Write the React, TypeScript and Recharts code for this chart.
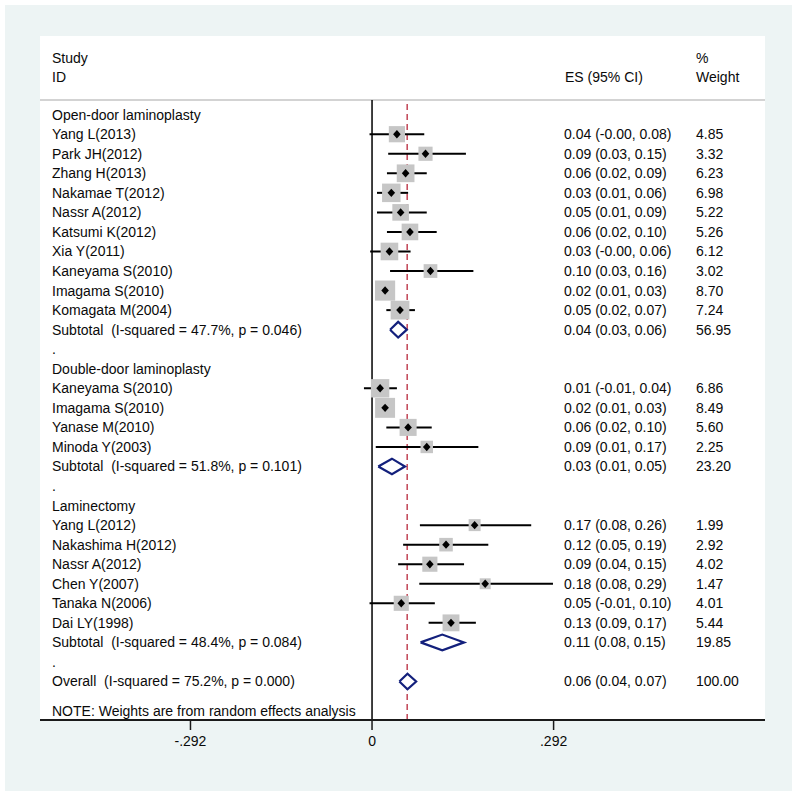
import { ComposedChart, Scatter, XAxis, YAxis, ErrorBar, ReferenceLine } from "recharts";

// rows of the forest plot, top to bottom
const rowLabels = [
  "Open-door laminoplasty",
  "Yang L(2013)",
  "Park JH(2012)",
  "Zhang H(2013)",
  "Nakamae T(2012)",
  "Nassr A(2012)",
  "Katsumi K(2012)",
  "Xia Y(2011)",
  "Kaneyama S(2010)",
  "Imagama S(2010)",
  "Komagata M(2004)",
  "Subtotal  (I-squared = 47.7%, p = 0.046)",
  ".",
  "Double-door laminoplasty",
  "Kaneyama S(2010)",
  "Imagama S(2010)",
  "Yanase M(2010)",
  "Minoda Y(2003)",
  "Subtotal  (I-squared = 51.8%, p = 0.101)",
  ".",
  "Laminectomy",
  "Yang L(2012)",
  "Nakashima H(2012)",
  "Nassr A(2012)",
  "Chen Y(2007)",
  "Tanaka N(2006)",
  "Dai LY(1998)",
  "Subtotal  (I-squared = 48.4%, p = 0.084)",
  ".",
  "Overall  (I-squared = 75.2%, p = 0.000)",
  "NOTE: Weights are from random effects analysis",
];

const rowKinds = [
  "group", "study", "study", "study", "study", "study", "study", "study", "study", "study", "study", "summary", "blank",
  "group", "study", "study", "study", "study", "summary", "blank",
  "group", "study", "study", "study", "study", "study", "study", "summary", "blank",
  "summary", "note",
];

const esLabels = [
  "", "0.04 (-0.00, 0.08)", "0.09 (0.03, 0.15)", "0.06 (0.02, 0.09)", "0.03 (0.01, 0.06)", "0.05 (0.01, 0.09)",
  "0.06 (0.02, 0.10)", "0.03 (-0.00, 0.06)", "0.10 (0.03, 0.16)", "0.02 (0.01, 0.03)", "0.05 (0.02, 0.07)",
  "0.04 (0.03, 0.06)", "",
  "", "0.01 (-0.01, 0.04)", "0.02 (0.01, 0.03)", "0.06 (0.02, 0.10)", "0.09 (0.01, 0.17)", "0.03 (0.01, 0.05)", "",
  "", "0.17 (0.08, 0.26)", "0.12 (0.05, 0.19)", "0.09 (0.04, 0.15)", "0.18 (0.08, 0.29)", "0.05 (-0.01, 0.10)",
  "0.13 (0.09, 0.17)", "0.11 (0.08, 0.15)", "",
  "0.06 (0.04, 0.07)", "",
];

const weightLabels = [
  "", "4.85", "3.32", "6.23", "6.98", "5.22", "5.26", "6.12", "3.02", "8.70", "7.24", "56.95", "",
  "", "6.86", "8.49", "5.60", "2.25", "23.20", "",
  "", "1.99", "2.92", "4.02", "1.47", "4.01", "5.44", "19.85", "",
  "100.00", "",
];

// plotted effect sizes and 95% CI (null where the row has no mark)
const estimates = [
  null, 0.04, 0.086, 0.054, 0.031, 0.046, 0.061, 0.028, 0.094, 0.021, 0.045, 0.042, null,
  null, 0.013, 0.021, 0.058, 0.088, 0.032, null,
  null, 0.165, 0.119, 0.093, 0.182, 0.047, 0.127, 0.113, null,
  0.057, null,
];
const ciLow = [
  null, -0.004, 0.026, 0.024, 0.008, 0.008, 0.024, -0.003, 0.029, 0.011, 0.023, 0.029, null,
  null, -0.013, 0.012, 0.023, 0.006, 0.01, null,
  null, 0.077, 0.05, 0.042, 0.076, -0.004, 0.091, 0.078, null,
  0.044, null,
];
const ciHigh = [
  null, 0.084, 0.151, 0.088, 0.058, 0.088, 0.104, 0.062, 0.163, 0.032, 0.069, 0.056, null,
  null, 0.04, 0.034, 0.096, 0.171, 0.053, null,
  null, 0.256, 0.187, 0.148, 0.291, 0.101, 0.167, 0.148, null,
  0.071, null,
];
const weights = [
  null, 4.85, 3.32, 6.23, 6.98, 5.22, 5.26, 6.12, 3.02, 8.7, 7.24, 56.95, null,
  null, 6.86, 8.49, 5.6, 2.25, 23.2, null,
  null, 1.99, 2.92, 4.02, 1.47, 4.01, 5.44, 19.85, null,
  100, null,
];

const overallEstimate = 0.0565;
const xTicks = [-0.292, 0, 0.292];

const FONT = "'Liberation Sans', Arial, Helvetica, sans-serif";
const NAVY = "#13207c";

// vertical position of each row (the note sits a bit lower)
const rowPos = rowLabels.map((_, i) => (rowKinds[i] === "note" ? 30.5 : i));

const textRows = rowLabels.map((_, i) => ({ x: 0, y: rowPos[i], i }));

const studies = rowKinds
  .map((k, i) => ({ k, i }))
  .filter((r) => r.k === "study")
  .map(({ i }) => ({
    x: estimates[i] as number,
    y: rowPos[i],
    w: weights[i] as number,
    err: [(estimates[i] as number) - (ciLow[i] as number), (ciHigh[i] as number) - (estimates[i] as number)],
  }));

const summaries = rowKinds
  .map((k, i) => ({ k, i }))
  .filter((r) => r.k === "summary")
  .map(({ i }) => {
    const r = rowPos[i];
    const e = estimates[i] as number;
    return [
      { x: ciLow[i] as number, y: r },
      { x: e, y: r - 0.4 },
      { x: ciHigh[i] as number, y: r },
      { x: e, y: r + 0.4 },
      { x: ciLow[i] as number, y: r },
    ];
  });

const GraySquare = (props: any) => {
  const { cx, cy, payload } = props;
  const s = 4.5 + 5.3 * Math.sqrt(payload.w);
  return <rect x={cx - s / 2} y={cy - s / 2} width={s} height={s} fill="#c6c6c6" />;
};

const PointMark = (props: any) => {
  const { cx, cy } = props;
  return (
    <polygon
      points={`${cx - 3.8},${cy} ${cx},${cy - 4.2} ${cx + 3.8},${cy} ${cx},${cy + 4.2}`}
      fill="#000"
    />
  );
};

// the three text columns, placed on each row's y position
const RowText = (props: any) => {
  const { cy, payload } = props;
  const i = payload.i;
  const txt = { fontFamily: FONT, fontSize: 14, fill: "#0a0a0a", whiteSpace: "pre" as const };
  return (
    <g>
      <text x={52} y={cy} dominantBaseline="central" style={txt}>
        {rowLabels[i]}
      </text>
      <text x={564} y={cy} dominantBaseline="central" style={txt}>
        {esLabels[i]}
      </text>
      <text x={696} y={cy} dominantBaseline="central" style={txt}>
        {weightLabels[i]}
      </text>
    </g>
  );
};

const fmtTick = (v: number) => (v === 0 ? "0" : v < 0 ? "-.292" : ".292");

export default function App() {
  return (
    <div style={{ position: "absolute", left: 0, top: 0, width: 798, height: 798, background: "#fff" }}>
      <svg width={798} height={798} style={{ position: "absolute", left: 0, top: 0 }}>
        <rect x={5} y={5} width={787} height={786} fill="#edf4f4" />
        <rect x={40} y={36} width={725} height={685} fill="#fff" />
        <line x1={40} x2={765} y1={100} y2={100} stroke="#c4c4c4" strokeWidth={1.5} />
        <g style={{ fontFamily: FONT, fontSize: 14 }} fill="#0a0a0a">
          <text x={52} y={58} dominantBaseline="central">Study</text>
          <text x={52} y={77} dominantBaseline="central">ID</text>
          <text x={565} y={77} dominantBaseline="central">ES (95% CI)</text>
          <text x={696} y={58} dominantBaseline="central">%</text>
          <text x={696} y={77} dominantBaseline="central">Weight</text>
        </g>
      </svg>
      <div style={{ position: "absolute", left: 0, top: 0 }}>
        <ComposedChart width={798} height={798} margin={{ top: 100, right: 33, bottom: 47, left: 40 }}>
          <XAxis
            type="number"
            dataKey="x"
            domain={[-0.534, 0.632]}
            allowDataOverflow
            ticks={xTicks}
            tickFormatter={fmtTick}
            height={31}
            axisLine={{ stroke: "#1a1a1a", strokeWidth: 2 }}
            tickLine={{ stroke: "#1a1a1a", strokeWidth: 1.5 }}
            tickSize={10}
            tickMargin={6}
            tick={{ fontFamily: FONT, fontSize: 14, fill: "#0a0a0a" }}
          />
          <YAxis
            type="number"
            dataKey="y"
            domain={[-0.75, 30.97]}
            allowDataOverflow
            reversed
            width={0}
            hide
          />
          <ReferenceLine x={0} stroke="#000" strokeWidth={1.5} />
          <ReferenceLine x={overallEstimate} stroke="#b8283c" strokeWidth={1.3} strokeDasharray="6 4" />
          <Scatter data={textRows} shape={<RowText />} isAnimationActive={false} />
          <Scatter data={studies} shape={<GraySquare />} isAnimationActive={false} />
          <Scatter data={studies} shape={<PointMark />} isAnimationActive={false}>
            <ErrorBar dataKey="err" direction="x" width={0} stroke="#000" strokeWidth={2} isAnimationActive={false} />
          </Scatter>
          {summaries.map((d, k) => (
            <Scatter
              key={k}
              data={d}
              fill="none"
              line={{ stroke: NAVY, strokeWidth: 2.2, fill: "#fff" }}
              lineJointType="linear"
              shape={() => <g />}
              isAnimationActive={false}
            />
          ))}
        </ComposedChart>
      </div>
    </div>
  );
}
